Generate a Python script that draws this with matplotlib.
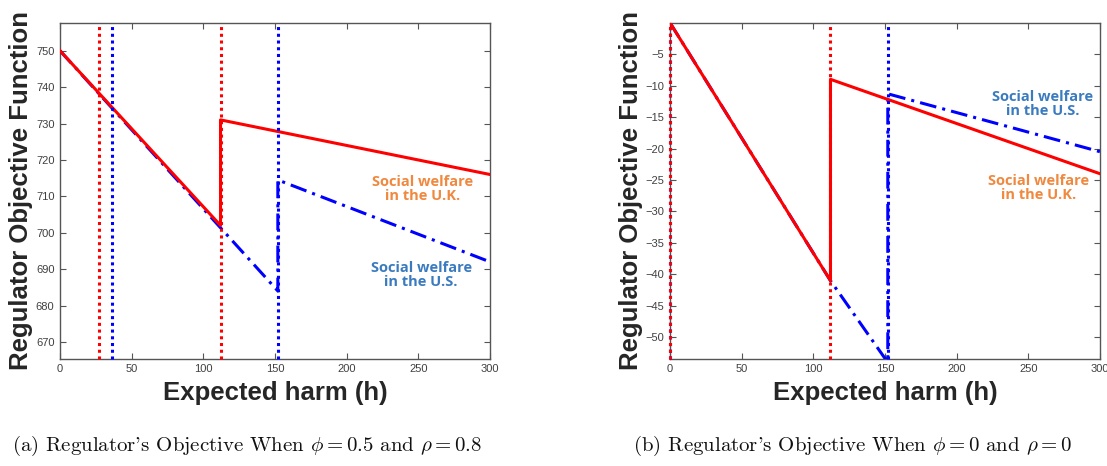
import matplotlib
matplotlib.use("Agg")
import matplotlib.pyplot as plt

# ---- data ----
# Panel (a): phi = 0.5, rho = 0.8
a_uk_h = [0, 112, 112, 300]
a_uk_v = [750, 702, 731, 716]
a_us_h = [0, 152, 152, 300]
a_us_v = [750, 684, 714.5, 692]
a_uk_thresholds = [27, 112]
a_us_thresholds = [36, 152]
a_yticks = [670, 680, 690, 700, 710, 720, 730, 740, 750]
a_ylim = [665.4, 757.7]

# Panel (b): phi = 0, rho = 0
b_uk_h = [0, 112, 112, 300]
b_uk_v = [0, -41, -9, -24]
b_us_h = [0, 112, 152, 152, 300]
b_us_v = [0, -41, -54, -11.3, -20.5]
b_uk_thresholds = [0, 112]
b_us_thresholds = [0, 152]
b_yticks = [-50, -45, -40, -35, -30, -25, -20, -15, -10, -5]
b_ylim = [-53.4, 0]

xticks = [0, 50, 100, 150, 200, 250, 300]

label_uk = "Social welfare\nin the U.K."
label_us = "Social welfare\nin the U.S."
a_uk_pos = (253, 712)
a_us_pos = (252, 688.4)
b_uk_pos = (257, -26.2)
b_us_pos = (260, -12.9)

caption_a = r"(a) Regulator's Objective When $\phi = 0.5$ and $\rho = 0.8$"
caption_b = r"(b) Regulator's Objective When $\phi = 0$ and $\rho = 0$"

plt.rcParams['mathtext.fontset'] = 'cm'

fig = plt.figure(figsize=(11.07, 4.66), dpi=100)

RED = '#ff0000'
BLUE = '#0000ff'
ORANGE = '#f0883e'
LBLUE = '#3a7bbf'
TXT = '#262626'


def panel(ax, uk_h, uk_v, us_h, us_v, uk_thr, us_thr, yticks, ylim,
          uk_pos, us_pos):
    for t in us_thr:
        ax.axvline(t, color=BLUE, ls=(0, (1, 1.2)), lw=2.2, zorder=5,
                   clip_on=False)
    for t in uk_thr:
        ax.axvline(t, color=RED, ls=(0, (1, 1.2)), lw=2.2, zorder=5,
                   clip_on=False)
    ax.plot(us_h, us_v, color=BLUE, lw=2.2, ls=(0, (5.5, 2, 1, 2)), zorder=3)
    ax.plot(uk_h, uk_v, color=RED, lw=2.2, ls='-', zorder=4)
    ax.set_xlim(0, 300)
    ax.set_ylim(*ylim)
    ax.set_xticks(xticks)
    ax.set_yticks(yticks)
    ax.tick_params(direction='in', length=4, width=0.8, top=True, right=True,
                   labelsize=8, labelcolor='#404040', color='#555555', pad=4)
    for s in ax.spines.values():
        s.set_color('#555555')
        s.set_linewidth(1.0)
    for lab in ax.get_xticklabels() + ax.get_yticklabels():
        lab.set_family('Liberation Sans')
    ax.set_xlabel('Expected harm (h)', fontsize=18.5, fontweight='bold',
                  family='Liberation Sans', color=TXT, labelpad=5)
    ax.set_ylabel('Regulator Objective Function', fontsize=18.5,
                  fontweight='bold', family='Liberation Sans', color=TXT,
                  labelpad=2)
    ax.text(*uk_pos, label_uk, color=ORANGE, fontsize=10.5, fontweight='bold',
            family='Open Sans', ha='center', va='center', linespacing=1.0)
    ax.text(*us_pos, label_us, color=LBLUE, fontsize=10.5, fontweight='bold',
            family='Open Sans', ha='center', va='center', linespacing=1.0)


ax1 = fig.add_axes([0.0542, 0.2303, 0.3884, 0.721])
panel(ax1, a_uk_h, a_uk_v, a_us_h, a_us_v, a_uk_thresholds, a_us_thresholds,
      a_yticks, a_ylim, a_uk_pos, a_us_pos)

ax2 = fig.add_axes([0.6052, 0.2303, 0.3884, 0.721])
panel(ax2, b_uk_h, b_uk_v, b_us_h, b_us_v, b_uk_thresholds, b_us_thresholds,
      b_yticks, b_ylim, b_uk_pos, b_us_pos)

fig.text(12 / 1107, 1 - 446 / 466, caption_a, family='cmr10', fontsize=15,
         ha='left', va='center', color='#111111')
fig.text(633 / 1107, 1 - 446 / 466, caption_b, family='cmr10', fontsize=15,
         ha='left', va='center', color='#111111')

fig.savefig('out.png', dpi=100)
